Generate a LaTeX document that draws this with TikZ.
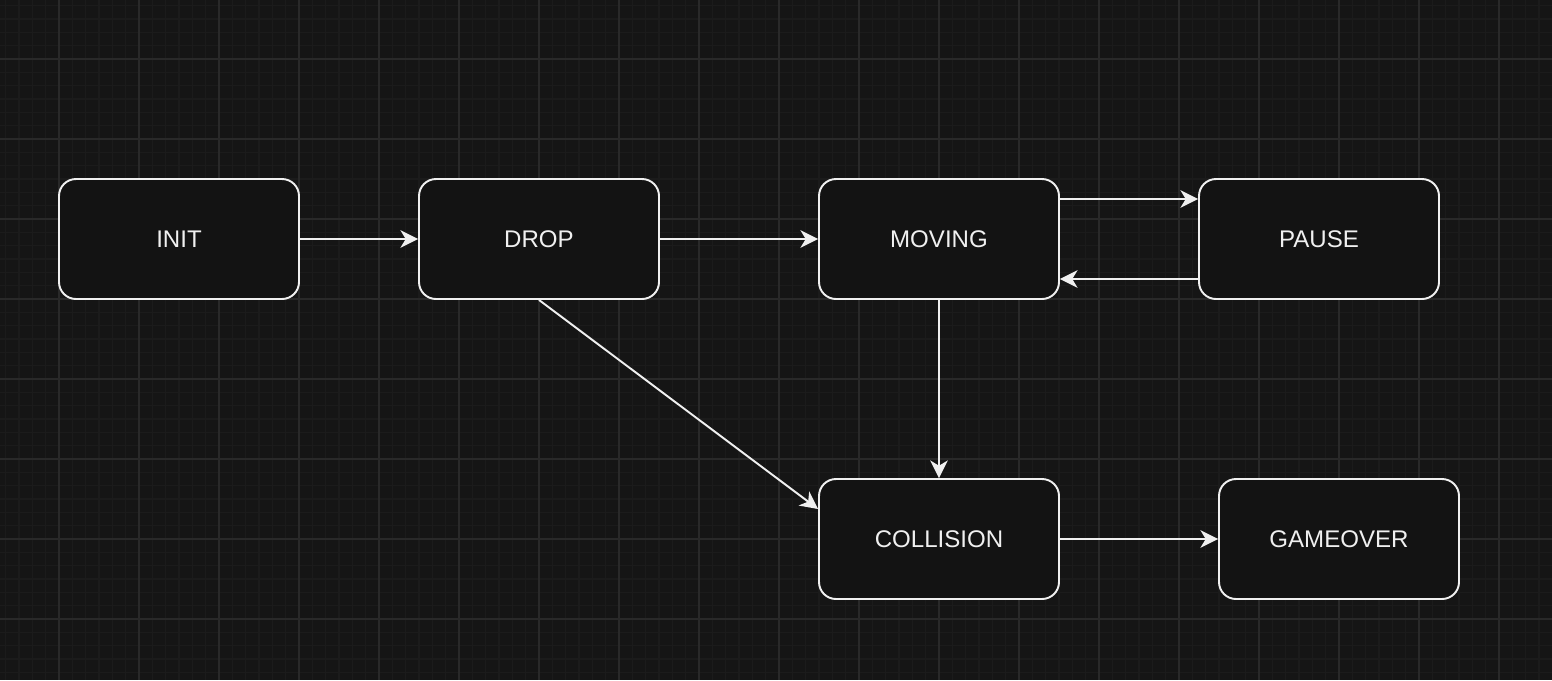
\documentclass[tikz,border=0pt]{standalone}
\usepackage{fontspec}
\setmainfont{Liberation Sans}
\usetikzlibrary{arrows.meta}
\definecolor{bgdark}{HTML}{151515}
\definecolor{boxdark}{HTML}{131313}
\definecolor{gridmajor}{HTML}{292929}
\definecolor{gridminor}{HTML}{1B1B1B}
\definecolor{inkwhite}{HTML}{F0F0F0}
\tikzset{
  state/.style={draw=inkwhite, fill=boxdark, line width=1.1pt, rounded corners=0.34cm,
    minimum width=4.8cm, minimum height=2.4cm, text=inkwhite,
    font=\fontsize{13.7}{16}\selectfont},
  flow/.style={draw=inkwhite, line width=1.1pt, -{Stealth[length=10pt, width=10pt, inset=3pt]}}
}
\begin{document}
\begin{tikzpicture}[scale=0.2]
    \useasboundingbox [fill=bgdark] (0,0) rectangle (155.2,-68);
    % grid
    \foreach \k in {-4,...,112} \draw [gridminor, line width=0.6pt] (5.9+1.3333*\k,0) -- (5.9+1.3333*\k,-68);
    \foreach \k in {-4,...,46} \draw [gridminor, line width=0.6pt] (0,-5.9-1.3333*\k) -- (155.2,-5.9-1.3333*\k);
    \foreach \k in {0,...,18} \draw [gridmajor, line width=0.8pt] (5.9+8*\k,0) -- (5.9+8*\k,-68);
    \foreach \k in {0,...,7} \draw [gridmajor, line width=0.8pt] (0,-5.9-8*\k) -- (155.2,-5.9-8*\k);
    % states
    \node [state] (init) at (17.9,-23.9) {INIT};
    \node [state] (drop) at (53.9,-23.9) {DROP};
    \node [state] (moving) at (93.9,-23.9) {MOVING};
    \node [state] (pause) at (131.9,-23.9) {PAUSE};
    \node [state] (collision) at (93.9,-53.9) {COLLISION};
    \node [state] (gameover) at (133.9,-53.9) {GAMEOVER};
    % transitions
    \draw [flow] (init) -- (drop);
    \draw [flow] (drop) -- (moving);
    \draw [flow] ([yshift=4cm]moving.east) -- ([yshift=4cm]pause.west);
    \draw [flow] ([yshift=-4cm]pause.west) -- ([yshift=-4cm]moving.east);
    \draw [flow] (moving) -- (collision);
    \draw [flow] (drop.south) -- ([yshift=3cm]collision.west);
    \draw [flow] (collision) -- (gameover);
\end{tikzpicture}
\end{document}
